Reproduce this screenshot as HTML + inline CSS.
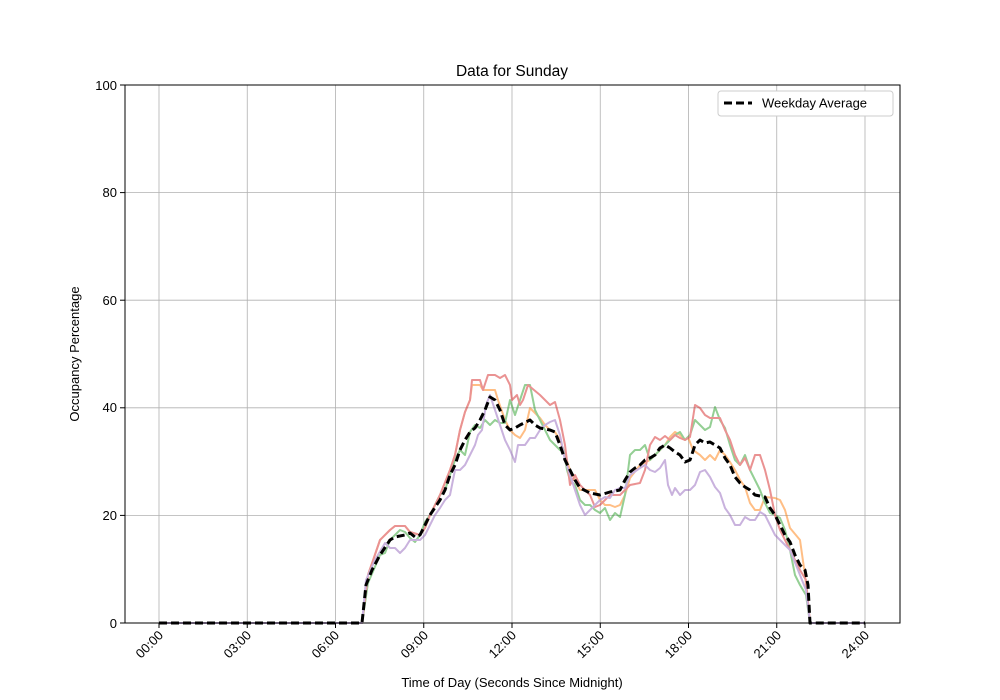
<!DOCTYPE html>
<html><head><meta charset="utf-8"><style>body{margin:0;background:#fff}svg{display:block;font-family:"Liberation Sans","DejaVu Sans",sans-serif}</style></head><body>
<svg width="1000" height="700" viewBox="0 0 1000 700" xmlns="http://www.w3.org/2000/svg">
<rect width="1000" height="700" fill="#fff"/>
<g stroke="#b0b0b0" stroke-width="0.8">
<line x1="159" y1="85" x2="159" y2="623"/><line x1="247.25" y1="85" x2="247.25" y2="623"/><line x1="335.5" y1="85" x2="335.5" y2="623"/><line x1="423.75" y1="85" x2="423.75" y2="623"/><line x1="512" y1="85" x2="512" y2="623"/><line x1="600.25" y1="85" x2="600.25" y2="623"/><line x1="688.5" y1="85" x2="688.5" y2="623"/><line x1="776.75" y1="85" x2="776.75" y2="623"/><line x1="865" y1="85" x2="865" y2="623"/>
<line x1="125" y1="515.4" x2="900" y2="515.4"/><line x1="125" y1="407.8" x2="900" y2="407.8"/><line x1="125" y1="300.2" x2="900" y2="300.2"/><line x1="125" y1="192.6" x2="900" y2="192.6"/>
</g>
<g fill="none" stroke-width="2" stroke-linejoin="round" opacity="0.5">
<polyline stroke="#ff7f0e" points="159,623 362,623 368,575 380,540 390,530 395,526 405,526 410,532 420,535 425,528 430,515 440,495 450,470 455,455 460,430 465,412 470,400 472,385 480,385 483,390 495,390 498,400 505,420 510,430 515,435 520,438 525,430 530,408 540,418 545,425 550,430 555,432 560,440 565,455 570,470 575,480 580,490 583,490 595,490 600,500 605,505 610,505 615,507 620,505 625,495 630,478 640,465 650,460 660,450 665,445 670,437 675,432 680,435 685,440 688,437 693,450 700,455 705,460 710,455 715,460 720,450 725,455 730,462 735,470 740,480 745,487 750,503 755,510 760,510 765,497 775,498 780,500 785,510 790,528 800,540 805,575 810,623 865,623"/>
<polyline stroke="#2ca02c" points="159,623 362,623 368,583 380,555 385,553 390,540 400,530 405,532 410,538 415,542 420,535 425,522 430,515 440,495 445,490 450,475 455,460 460,450 465,455 470,432 475,425 480,428 485,420 490,425 495,420 500,423 505,423 510,400 515,415 520,400 525,385 530,385 535,410 540,420 545,430 550,440 555,445 560,450 563,448 567,470 570,480 575,485 580,500 585,505 590,505 595,510 600,513 605,508 610,520 615,513 620,517 625,495 630,455 635,450 640,450 645,445 650,460 655,455 660,450 665,445 670,440 675,435 680,432 685,440 690,435 695,420 700,425 705,430 710,427 715,407 720,420 725,428 730,445 735,460 740,465 745,455 750,470 755,480 760,490 765,503 770,513 775,515 780,518 785,530 790,550 795,575 800,585 806,595 810,623 865,623"/>
<polyline stroke="#d62728" points="159,623 362,623 368,575 380,540 390,530 395,526 405,526 410,532 420,535 425,528 430,515 440,495 450,470 455,455 460,430 465,412 470,400 472,380 480,380 483,390 488,375 495,375 500,378 505,375 510,385 512,400 517,395 520,405 523,400 528,385 540,395 550,405 555,402 560,420 565,445 570,485 575,475 580,485 590,495 595,507 600,505 605,500 610,495 620,495 625,490 630,485 640,483 645,470 650,445 655,437 660,440 665,436 670,440 675,435 680,438 685,440 690,437 695,405 700,408 705,415 710,418 720,418 725,430 730,440 735,455 740,465 745,458 750,470 755,455 760,455 765,470 770,490 775,515 780,530 790,550 800,570 806,580 810,623 865,623"/>
<polyline stroke="#9467bd" points="159,623 362,623 366,580 375,560 385,543 390,548 395,548 400,553 405,548 410,540 420,540 425,535 430,525 435,515 440,508 445,500 450,495 455,470 460,470 465,465 470,455 475,445 478,435 482,430 486,405 490,395 495,410 500,425 505,440 510,450 515,462 518,445 525,445 530,438 535,438 540,430 545,425 550,422 555,420 560,435 565,460 570,475 575,490 580,505 585,515 590,510 595,505 600,500 605,497 610,498 615,490 620,488 625,488 630,475 640,468 645,465 650,470 655,472 660,468 665,460 668,485 672,495 675,488 680,495 685,490 690,490 695,485 700,472 705,470 710,477 715,487 720,493 725,508 730,515 735,525 740,525 745,517 750,520 755,520 760,512 765,515 770,525 775,535 780,540 790,550 800,575 806,590 810,623 865,623"/>
</g>
<polyline fill="none" stroke="#000" stroke-width="3" stroke-dasharray="8,4" stroke-linejoin="round" points="159,623 362,623 366,585 372,570 380,555 390,540 395,537 405,535 410,533 415,537 420,535 425,525 430,515 440,500 445,490 450,475 455,465 460,450 465,440 470,432 475,428 480,420 485,410 490,397 495,400 500,410 505,425 510,430 515,428 520,425 530,420 535,425 540,428 550,430 555,432 560,445 565,460 570,470 575,480 580,488 590,493 600,495 610,492 620,490 625,480 630,472 635,468 640,465 645,460 650,458 655,455 660,448 665,445 670,448 675,452 680,455 685,462 690,460 695,445 700,440 705,443 710,442 715,445 720,448 725,458 730,465 735,477 740,483 745,487 750,490 755,495 765,497 770,508 775,515 780,525 785,535 790,542 795,555 800,565 805,570 808,585 810,623 865,623"/>
<rect x="125" y="85" width="775" height="538" fill="none" stroke="#000" stroke-width="1"/>
<g stroke="#000" stroke-width="1">
<line x1="159" y1="623" x2="159" y2="628"/><line x1="247.25" y1="623" x2="247.25" y2="628"/><line x1="335.5" y1="623" x2="335.5" y2="628"/><line x1="423.75" y1="623" x2="423.75" y2="628"/><line x1="512" y1="623" x2="512" y2="628"/><line x1="600.25" y1="623" x2="600.25" y2="628"/><line x1="688.5" y1="623" x2="688.5" y2="628"/><line x1="776.75" y1="623" x2="776.75" y2="628"/><line x1="865" y1="623" x2="865" y2="628"/>
<line x1="120" y1="623" x2="125" y2="623"/><line x1="120" y1="515.4" x2="125" y2="515.4"/><line x1="120" y1="407.8" x2="125" y2="407.8"/><line x1="120" y1="300.2" x2="125" y2="300.2"/><line x1="120" y1="192.6" x2="125" y2="192.6"/><line x1="120" y1="85" x2="125" y2="85"/>
</g>
<g font-size="13" text-anchor="end">
<text x="117" y="628">0</text><text x="117" y="520">20</text><text x="117" y="412">40</text><text x="117" y="305">60</text><text x="117" y="197">80</text><text x="117" y="90">100</text>
</g>
<g font-size="13" text-anchor="end">
<text transform="translate(164,636) rotate(-45)">00:00</text><text transform="translate(252,636) rotate(-45)">03:00</text><text transform="translate(340,636) rotate(-45)">06:00</text><text transform="translate(429,636) rotate(-45)">09:00</text><text transform="translate(517,636) rotate(-45)">12:00</text><text transform="translate(605,636) rotate(-45)">15:00</text><text transform="translate(693,636) rotate(-45)">18:00</text><text transform="translate(782,636) rotate(-45)">21:00</text><text transform="translate(870,636) rotate(-45)">24:00</text>
</g>
<text x="512" y="687" font-size="13" text-anchor="middle">Time of Day (Seconds Since Midnight)</text>
<text transform="translate(79,354) rotate(-90)" font-size="13" text-anchor="middle">Occupancy Percentage</text>
<text x="512" y="76" font-size="15.5" text-anchor="middle">Data for Sunday</text>
<rect x="718" y="91" width="175" height="25" rx="3" fill="#fff" stroke="#ccc"/>
<line x1="724" y1="103" x2="752" y2="103" stroke="#000" stroke-width="3" stroke-dasharray="8,4"/>
<text x="762" y="107.5" font-size="13">Weekday Average</text>
</svg>
</body></html>
